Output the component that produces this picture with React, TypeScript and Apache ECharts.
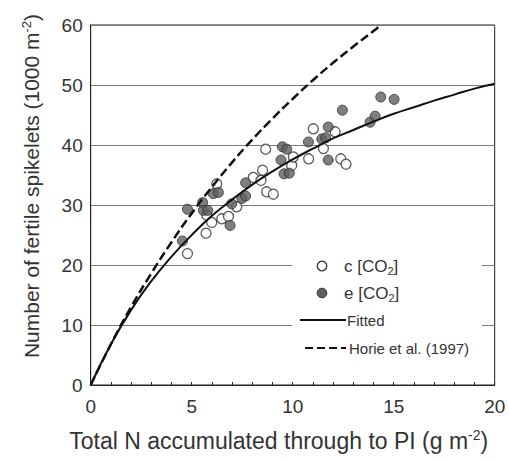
import React, { useEffect, useRef } from "react";
import * as echarts from "echarts";

// Ambient CO2 (open circles)
const cN = [4.79, 5.71, 5.74, 5.99, 6.24, 6.49, 6.82, 7.23, 8.05, 8.43, 8.51, 8.66, 8.71, 9.04, 9.95, 10.03, 10.79, 11.02, 11.52, 12.1, 12.38, 12.64];
const cSpk = [21.9, 25.3, 28.3, 27.1, 33.5, 27.7, 28.1, 29.7, 34.6, 34.1, 35.8, 39.3, 32.2, 31.8, 36.6, 38.0, 37.7, 42.7, 39.4, 42.2, 37.7, 36.8];
// Elevated CO2 (filled circles)
const eN = [4.54, 4.79, 5.54, 5.58, 5.79, 6.07, 6.32, 6.9, 6.98, 7.48, 7.67, 7.67, 9.42, 9.49, 9.7, 9.57, 9.83, 10.78, 11.44, 11.63, 11.76, 11.76, 12.46, 13.83, 14.08, 14.36, 15.02];
const eSpk = [24.0, 29.3, 30.4, 29.1, 29.1, 31.9, 32.1, 26.6, 30.2, 31.1, 31.5, 33.7, 37.5, 39.7, 39.3, 35.2, 35.3, 40.5, 41.0, 41.2, 43.0, 37.5, 45.8, 43.8, 44.8, 48.0, 47.6];
// Fitted curve at whole x values
const fitN = [0, 1, 2, 3, 4, 5, 6, 7, 8, 9, 10, 11, 12, 13, 14, 15, 16, 17, 18, 19, 20];
const fitSpk = [0, 6.8, 12.5, 17.3, 21.4, 25.0, 28.2, 30.9, 33.4, 35.6, 37.6, 39.4, 41.1, 42.5, 43.9, 45.2, 46.3, 47.4, 48.4, 49.4, 50.2];
// Horie et al. (1997) curve
const horN = [0, 1, 2, 3, 4, 5, 6, 7, 8, 9, 10, 11, 12, 13, 14, 14.37];
const horSpk = [0, 6.8, 13.0, 18.6, 23.8, 28.6, 33.0, 37.1, 40.9, 44.4, 47.7, 50.8, 53.7, 56.4, 59.0, 60];

const xTicks = [0, 5, 10, 15, 20];
const yTicks = [0, 10, 20, 30, 40, 50, 60];

const FONT = "Liberation Sans, Arial, sans-serif";
const TXT = "#333";

const zip = (a: number[], b: number[]) => a.map((v, i) => [v, b[i]]);

export default function App() {
  const ref = useRef<HTMLDivElement>(null);
  useEffect(() => {
    if (!ref.current) return;
    const chart = echarts.init(ref.current, null, { renderer: "svg" });
    const subRich = (size: number, subSize: number) => ({
      a: { fontSize: size, fontFamily: FONT, fill: TXT, lineHeight: size + 3 },
      s: { fontSize: subSize, fontFamily: FONT, fill: TXT, lineHeight: size + 3, verticalAlign: "bottom" },
    });
    chart.setOption({
      animation: false,
      grid: {
        left: 90.7,
        right: 14.3,
        top: 25,
        bottom: 77,
        show: true,
        borderColor: "#222",
        borderWidth: 1,
        backgroundColor: "transparent",
      },
      xAxis: {
        type: "value",
        min: 0,
        max: 20,
        interval: 1,
        axisLine: { lineStyle: { color: "#222", width: 1 } },
        axisTick: { show: true, inside: true, length: 3, lineStyle: { color: "#222" } },
        splitLine: { show: false },
        axisLabel: {
          color: TXT,
          fontSize: 19,
          fontFamily: FONT,
          margin: 12,
          formatter: (v: number) => (xTicks.includes(v) ? String(v) : ""),
        },
        name: "{a|Total N accumulated through to PI (g m}{s|-2}{a|)}",
        nameLocation: "middle",
        nameGap: 43,
        nameTextStyle: {
          padding: [0, 28, 0, 0],
          rich: {
            a: { fontSize: 23, fontFamily: FONT, color: TXT, lineHeight: 26 },
            s: { fontSize: 14, fontFamily: FONT, color: TXT, lineHeight: 26, verticalAlign: "top" },
          },
        },
      },
      yAxis: {
        type: "value",
        min: 0,
        max: 60,
        interval: 10,
        axisLine: { show: true, lineStyle: { color: "#222", width: 1 } },
        axisTick: { show: false },
        splitLine: { show: true, lineStyle: { color: "#7a7a7a", width: 1.2 } },
        axisLabel: {
          color: TXT,
          fontSize: 19,
          fontFamily: FONT,
          margin: 8,
          formatter: (v: number) => (yTicks.includes(v) ? String(v) : ""),
        },
        name: "{a|Number of fertile spikelets (1000 m}{s|-2}{a|)}",
        nameLocation: "middle",
        nameGap: 47,
        nameTextStyle: {
          padding: [0, 0, 0, 38],
          rich: {
            a: { fontSize: 21, fontFamily: FONT, color: TXT, lineHeight: 24 },
            s: { fontSize: 13, fontFamily: FONT, color: TXT, lineHeight: 24, verticalAlign: "top" },
          },
        },
      },
      series: [
        {
          type: "scatter",
          name: "c [CO2]",
          data: zip(cN, cSpk),
          symbol: "circle",
          symbolSize: 10,
          itemStyle: { color: "#fff", borderColor: "#333", borderWidth: 1.3 },
          z: 2,
        },
        {
          type: "scatter",
          name: "e [CO2]",
          data: zip(eN, eSpk),
          symbol: "circle",
          symbolSize: 10,
          itemStyle: { color: "#5f5f5f", borderColor: "#2e2e2e", borderWidth: 1 },
          z: 3,
        },
        {
          type: "line",
          name: "Fitted",
          data: zip(fitN, fitSpk),
          smooth: true,
          showSymbol: false,
          symbol: "none",
          lineStyle: { color: "#111", width: 2 },
          z: 4,
        },
        {
          type: "line",
          name: "Horie et al. (1997)",
          data: zip(horN, horSpk),
          smooth: true,
          showSymbol: false,
          symbol: "none",
          lineStyle: { color: "#111", width: 2.5, type: [9, 4] },
          z: 4,
        },
      ],
      graphic: [
        {
          type: "rect",
          shape: { x: 292, y: 252, width: 190, height: 112 },
          style: { fill: "#fff" },
          z: 10,
        },
        {
          type: "circle",
          shape: { cx: 322, cy: 266, r: 4.8 },
          style: { fill: "#fff", stroke: "#333", lineWidth: 1.3 },
          z: 11,
        },
        {
          type: "text",
          x: 344,
          y: 266,
          style: { text: "{a|c [CO}{s|2}{a|]}", verticalAlign: "middle", rich: subRich(17, 11) },
          z: 11,
        },
        {
          type: "circle",
          shape: { cx: 322, cy: 293, r: 4.8 },
          style: { fill: "#5f5f5f", stroke: "#2e2e2e", lineWidth: 1 },
          z: 11,
        },
        {
          type: "text",
          x: 344,
          y: 293,
          style: { text: "{a|e [CO}{s|2}{a|]}", verticalAlign: "middle", rich: subRich(17, 11) },
          z: 11,
        },
        {
          type: "line",
          shape: { x1: 300, y1: 320, x2: 346, y2: 320 },
          style: { stroke: "#111", lineWidth: 2 },
          z: 11,
        },
        {
          type: "text",
          x: 347,
          y: 320,
          style: { text: "Fitted", fontSize: 15, fontFamily: FONT, fill: TXT, verticalAlign: "middle" },
          z: 11,
        },
        {
          type: "line",
          shape: { x1: 305, y1: 348, x2: 346, y2: 348 },
          style: { stroke: "#111", lineWidth: 2, lineDash: [8, 4] },
          z: 11,
        },
        {
          type: "text",
          x: 349,
          y: 348,
          style: { text: "Horie et al. (1997)", fontSize: 15, fontFamily: FONT, fill: TXT, verticalAlign: "middle" },
          z: 11,
        },
      ],
    });
    return () => chart.dispose();
  }, []);
  return (
    <div
      ref={ref}
      style={{ position: "fixed", left: 0, top: 0, width: 509, height: 462, background: "#fff" }}
    />
  );
}
